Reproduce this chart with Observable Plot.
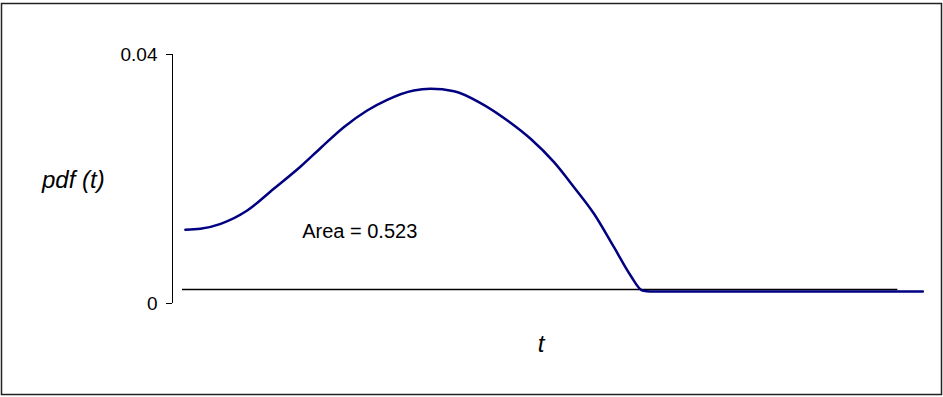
<!DOCTYPE html>
<html>
<head>
<meta charset="utf-8">
<script src="https://cdn.jsdelivr.net/npm/d3@7"></script>
<script src="https://cdn.jsdelivr.net/npm/@observablehq/plot@0.6"></script>
<style>
  html, body { margin: 0; padding: 0; background: #fff; }
  #chart svg { display: block; }
</style>
</head>
<body>
<div id="chart"></div>
<script>
// Time positions (category units) and pdf values
const tValues = [0.49, 1.06, 1.83, 2.84, 3.85, 4.87, 5.63, 6.51, 7.40, 8.16, 9.17, 9.81,
  10.70, 11.71, 12.73, 13.61, 14.50, 15.26, 16.02, 16.78, 17.41, 17.86, 18.17, 28.52];
const pdfValues = [0.01184, 0.0120, 0.0128, 0.01494, 0.01843, 0.02201, 0.02498, 0.02832,
  0.03100, 0.03272, 0.03422, 0.03449, 0.03410, 0.03220, 0.02940, 0.02646, 0.02270,
  0.01868, 0.01441, 0.00904, 0.00450, 0.00209, 0.00193, 0.00193];

// Reference line (black horizontal)
const refLineValue = 0.00225;
const refLineStart = 0.38;
const refLineEnd = 27.57;

// Axis
const yTicks = [0, 0.04];
const yTickLabels = ["0", "0.04"];
const xDomain = [0, 29];
const yDomain = [0, 0.04];

// Annotation
const areaLabel = "Area = 0.523";
const areaLabelT = 4.93;
const areaLabelV = 0.0116;

const data = tValues.map((t, i) => ({t, v: pdfValues[i]}));

const plot = Plot.plot({
  width: 943,
  height: 397,
  marginLeft: 172,
  marginRight: 8,
  marginTop: 54,
  marginBottom: 94,
  style: {fontFamily: "'Liberation Sans', Arial, sans-serif", color: "#000", background: "#fff"},
  x: {domain: xDomain, axis: null},
  y: {domain: yDomain, axis: null},
  marks: [
    Plot.axisY({
      ticks: yTicks,
      tickSize: 6,
      tickPadding: 9,
      tickFormat: d => yTickLabels[yTicks.indexOf(d)],
      label: null,
      fontSize: 19,
      stroke: "#000",
      fill: "#000"
    }),
    Plot.ruleX([xDomain[0]], {y1: yDomain[0], y2: yDomain[1], stroke: "#000", strokeWidth: 1}),
    Plot.ruleY([refLineValue], {x1: refLineStart, x2: refLineEnd, stroke: "#000", strokeWidth: 1.5}),
    Plot.line(data, {x: "t", y: "v", stroke: "#000080", strokeWidth: 2.5, curve: "monotone-x"}),
    Plot.text([areaLabel], {x: areaLabelT, y: areaLabelV, text: d => d, textAnchor: "start", fontSize: 20, fill: "#000"})
  ]
});

const svg = d3.select(plot);
// outer chart border
svg.append("rect")
  .attr("x", 1.5).attr("y", 3.5).attr("width", 940).attr("height", 391)
  .attr("fill", "none").attr("stroke", "#222").attr("stroke-width", 1.5);
// y label
svg.append("text")
  .attr("x", 42).attr("y", 187.5)
  .attr("text-anchor", "start")
  .attr("font-style", "italic").attr("font-size", 24)
  .attr("fill", "#000")
  .text("pdf (t)");
// x label
svg.append("text")
  .attr("x", 541).attr("y", 352)
  .attr("text-anchor", "middle")
  .attr("font-style", "italic").attr("font-size", 24)
  .attr("fill", "#000")
  .text("t");

document.getElementById("chart").appendChild(plot);
</script>
</body>
</html>
